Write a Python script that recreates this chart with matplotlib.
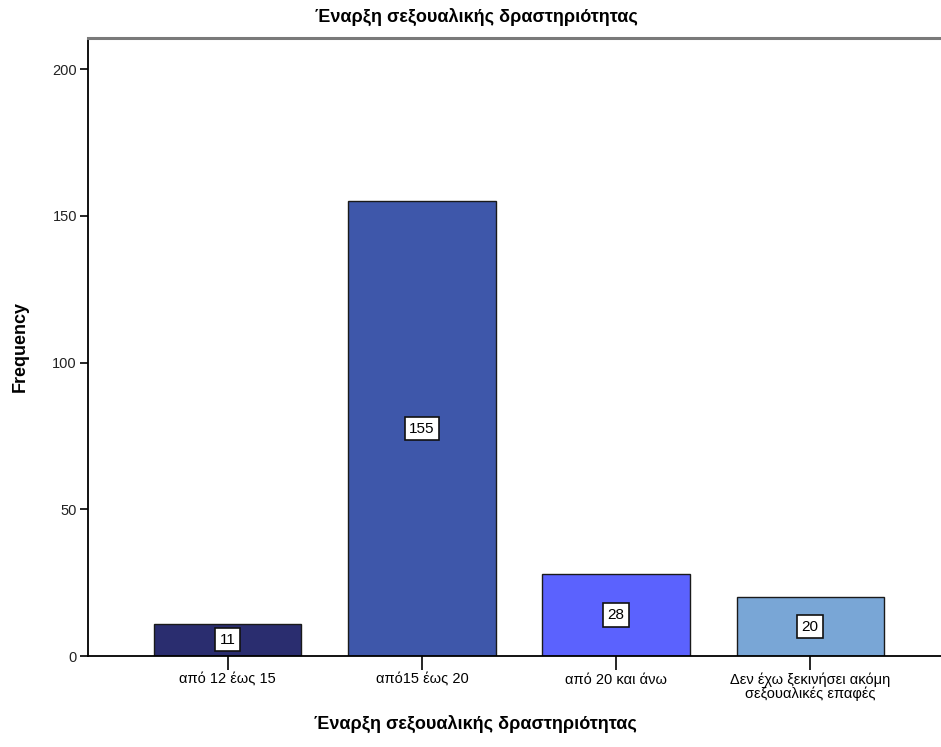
import matplotlib
matplotlib.use("Agg")
import matplotlib.pyplot as plt

categories = ["από 12 έως 15", "από15 έως 20", "από 20 και άνω",
              "Δεν έχω ξεκινήσει ακόμη\nσεξουαλικές επαφές"]
counts = [11, 155, 28, 20]
bar_colors = ["#2A2D6F", "#3E57AA", "#5B62FE", "#79A6D6"]
title = "Έναρξη σεξουαλικής δραστηριότητας"
y_ticks = [0, 50, 100, 150, 200]

plt.rcParams["font.family"] = ["Liberation Sans", "DejaVu Sans"]

fig = plt.figure(figsize=(9.41, 7.47), dpi=100)
W, H = 941, 747
left, right, top, bottom = 88, 950, 38, 656
ax = fig.add_axes([left / W, 1 - bottom / H, (right - left) / W, (bottom - top) / H])

x = list(range(len(categories)))
ax.bar(x, counts, width=0.758, color=bar_colors, edgecolor="#1a1a1a", linewidth=1.0, zorder=2)

for xi, v in zip(x, counts):
    ax.text(xi, v / 2, str(v), ha="center", va="center", fontsize=11, zorder=3,
            bbox=dict(boxstyle="square,pad=0.3", facecolor="white", edgecolor="#111111", linewidth=1.2))

ax.set_xlim(-0.72, 3.72)
ax.set_ylim(0, 210.6)
ax.set_yticks(y_ticks)
ax.set_yticklabels([str(t) for t in y_ticks], fontsize=10.5, color="#222222")
ax.set_xticks(x)
ax.set_xticklabels(categories, fontsize=10.5, linespacing=0.95)

ax.tick_params(axis="y", direction="out", length=6, width=1.2, pad=2)
ax.tick_params(axis="x", direction="out", length=10, width=1.2, pad=2)

ax.spines["right"].set_visible(False)
ax.spines["left"].set_linewidth(1.3)
ax.spines["bottom"].set_linewidth(1.3)
ax.spines["top"].set_linewidth(2.2)
ax.spines["top"].set_color("#7a7a7a")

fig.text(20 / W, 1 - 347 / H, "Frequency", rotation=90, ha="center", va="center",
         fontsize=13, fontweight="bold")
fig.text(475 / W, 1 - 724 / H, title, ha="center", va="center",
         fontsize=13, fontweight="bold")
fig.text(476 / W, 1 - 17 / H, title, ha="center", va="center",
         fontsize=13, fontweight="bold")

fig.savefig("out.png", dpi=100)
